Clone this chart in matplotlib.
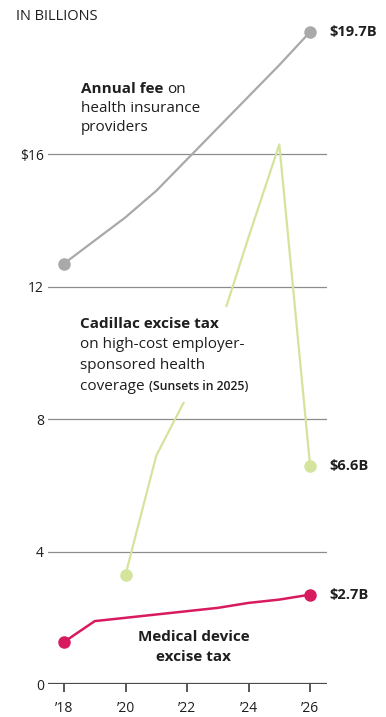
import matplotlib
matplotlib.use("Agg")
import matplotlib.pyplot as plt
from matplotlib.patches import Rectangle

plt.rcParams['font.family'] = ['Open Sans', 'DejaVu Sans']

# ---- data ----
years_fee = [18, 19, 20, 21, 22, 23, 24, 25, 26]
annual_fee = [12.7, 13.4, 14.1, 14.9, 15.85, 16.8, 17.75, 18.7, 19.7]

years_cad = [20, 21, 22, 23, 24, 25, 26]
cadillac = [3.3, 6.9, 8.7, 10.6, 13.5, 16.3, 6.6]

years_med = [18, 19, 20, 21, 22, 23, 24, 25, 26]
medical = [1.27, 1.9, 2.0, 2.1, 2.2, 2.3, 2.45, 2.55, 2.7]

ytick_vals = [0, 4, 8, 12, 16]
ytick_labels = ['0', '4', '8', '12', '$16']
xtick_vals = [18, 20, 22, 24, 26]
xtick_labels = ['\u201918', '\u201920', '\u201922', '\u201924', '\u201926']

GRAY = '#a9a9a9'
GREEN = '#d4e49c'
PINK = '#d81a5f'
TXT = '#1e1e1e'
FS = 11

W, H = 386, 717
fig = plt.figure(figsize=(W / 100, H / 100), dpi=100)
ax = fig.add_axes([48 / W, (H - 684) / H, 279 / W, 662 / H])
ax.set_xlim(17.48, 26.55)
ax.set_ylim(0, 20)

for s in ax.spines.values():
    s.set_visible(False)

# gridlines
for v in ytick_vals[1:]:
    ax.axhline(v, color='#8c8c8c', lw=0.9, zorder=1)
ax.axhline(0, color='#4a4a4a', lw=1.6, zorder=1)

ax.set_yticks(ytick_vals)
ax.set_yticklabels(ytick_labels, fontsize=10, color=TXT)
ax.tick_params(axis='y', length=0, pad=3)
ax.set_xticks(xtick_vals)
ax.set_xticklabels(xtick_labels, fontsize=10, color=TXT)
ax.tick_params(axis='x', direction='out', length=6, width=1.3, color='#4a4a4a', pad=6)

# lines
ax.plot(years_fee, annual_fee, color=GRAY, lw=1.6, zorder=3, solid_capstyle='round')
ax.plot([years_fee[0], years_fee[-1]], [annual_fee[0], annual_fee[-1]], 'o',
        color=GRAY, ms=8, zorder=4, clip_on=False)

ax.plot(years_cad, cadillac, color=GREEN, lw=1.6, zorder=3)
ax.plot([years_cad[0], years_cad[-1]], [cadillac[0], cadillac[-1]], 'o',
        color=GREEN, ms=8, zorder=4, clip_on=False)

ax.plot(years_med, medical, color=PINK, lw=1.8, zorder=3)
ax.plot([years_med[0], years_med[-1]], [medical[0], medical[-1]], 'o',
        color=PINK, ms=8, zorder=4, clip_on=False)

# end labels
for yv in [annual_fee[-1], cadillac[-1], medical[-1]]:
    ax.annotate(f'${yv:.1f}B', (26, yv), xytext=(14, 0), textcoords='offset points',
                va='center', ha='left', fontsize=10.5, fontweight='bold', color=TXT,
                annotation_clip=False)


def fx(x):
    return x / W


def fy(y):
    return 1 - y / H


renderer = fig.canvas.get_renderer()


def runs(x, y, parts, **kw):
    """Place text runs one after another on a line (pixel coords)."""
    for txt, size, weight in parts:
        t = fig.text(fx(x), fy(y), txt, fontsize=size, fontweight=weight, color=TXT,
                     va='baseline', ha='left', **kw)
        x += t.get_window_extent(renderer).width


fig.text(fx(16), fy(17), 'IN BILLIONS', fontsize=10.5, color=TXT, va='center', ha='left')

# Annual fee label (baselines)
runs(81, 93, [('Annual fee ', FS, 'bold'), ('on', FS, 'normal')])
runs(81, 112, [('health insurance', FS, 'normal')])
runs(81, 131, [('providers', FS, 'normal')])

# white box hiding the Cadillac line behind its label
fig.patches.append(Rectangle((fx(76), fy(402)), (264 - 76) / W, (402 - 307) / H,
                             transform=fig.transFigure, fc='white', ec='none', zorder=5))

runs(80, 328, [('Cadillac excise tax', FS, 'bold')], zorder=6)
runs(80, 348, [('on high-cost employer-', FS, 'normal')], zorder=6)
runs(80, 369, [('sponsored health', FS, 'normal')], zorder=6)
runs(80, 390, [('coverage ', FS, 'normal'), ('(Sunsets in 2025)', 8.8, 'semibold')], zorder=6)

# Medical device label
fig.text(fx(194), fy(641), 'Medical device', fontsize=FS, fontweight='bold',
         color=TXT, va='baseline', ha='center')
fig.text(fx(194), fy(661), 'excise tax', fontsize=FS, fontweight='bold',
         color=TXT, va='baseline', ha='center')

fig.savefig('out.png', dpi=100, facecolor='white')
